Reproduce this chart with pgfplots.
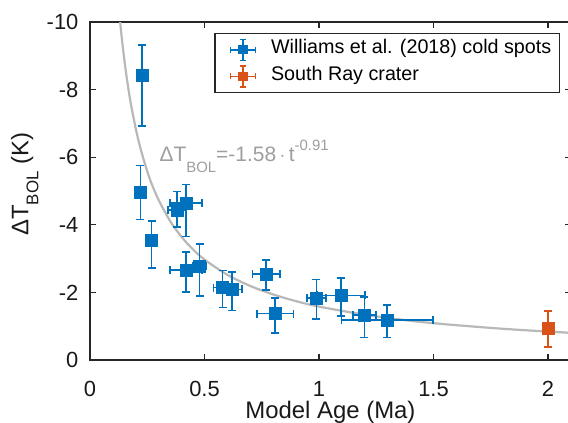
\documentclass[border=0pt]{standalone}
\usepackage{pgfplots}
\pgfplotsset{compat=1.18}
\usepackage{pgfplotstable}
\usepackage{fontspec}
\setmainfont{Liberation Sans}
\definecolor{mblue}{rgb}{0,0.447,0.741}
\definecolor{morange}{rgb}{0.85,0.325,0.098}
\definecolor{axgray}{rgb}{0.15,0.15,0.15}
\definecolor{fitgray}{rgb}{0.72,0.72,0.72}
\definecolor{txtgray}{rgb}{0.62,0.62,0.62}

\pgfplotstableread{
x     y      xe     yep   yem
0.228 -8.43  0      1.50  0.89
0.220 -4.97  0      0.81  0.78
0.269 -3.53  0      0.80  0.59
0.380 -4.44  0.040  0.51  0.54
0.419 -4.65  0.070  1.00  0.54
0.419 -2.66  0.070  0.64  0.54
0.479 -2.78  0.030  0.89  0.66
0.579 -2.14  0.040  0.59  0.51
0.619 -2.09  0.045  0.62  0.52
0.769 -2.54  0.060  0.47  0.42
0.809 -1.37  0.080  0.57  0.47
0.989 -1.84  0.041  0.63  0.54
1.097 -1.91  0.105  0.61  0.52
1.198 -1.33  0.050  0.67  0.54
1.298 -1.19  0.200  0.53  0.43
}\williams

\pgfplotstableread{
x     y      xe     yep   yem
2.000 -0.95  0      0.56  0.50
}\southray

\pgfplotsset{
  ebicon/.style={
    legend image code/.code={
      \path (-7bp,0bp);
      \draw[#1, line width=1.5bp] (0bp,0bp) -- (25bp,0bp);
      \draw[#1, line width=1.5bp] (0bp,-3bp) -- (0bp,3bp) (25bp,-3bp) -- (25bp,3bp);
      \draw[#1, line width=1.5bp] (12.5bp,-10.5bp) -- (12.5bp,10.5bp) (9.5bp,-10.5bp) -- (15.5bp,-10.5bp) (9.5bp,10.5bp) -- (15.5bp,10.5bp);
      \fill[#1] (8.5bp,-4bp) rectangle (16.5bp,4bp);}}
}

\begin{document}
\begin{tikzpicture}
\begin{axis}[
  scale only axis, width=480.9bp, height=338bp,
  xmin=0, xmax=2.1, ymin=-10, ymax=0, y dir=reverse,
  xtick={0,0.5,1,1.5,2}, xticklabels={0,0.5,1,1.5,2},
  ytick={-10,-8,-6,-4,-2,0}, yticklabels={-10,-8,-6,-4,-2,0},
  tick align=inside, major tick length=6bp,
  axis line style={axgray, line width=1.2bp},
  every tick/.style={axgray, line width=1.2bp},
  tick label style={font=\fontsize{22}{22}\selectfont, text=black!90, inner sep=0pt},
  xticklabel style={anchor=north, yshift=-21bp},
  yticklabel style={anchor=east, xshift=-11.4bp},
  xlabel={Model Age (Ma)},
  ylabel={ΔT\raisebox{-0.42em}{\fontsize{17}{17}\selectfont BOL} (K)},
  label style={font=\fontsize{24}{24}\selectfont, text=black!90, inner sep=0pt},
  xlabel style={at={(axis description cs:0.5,0)}, anchor=base, yshift=-58bp},
  ylabel style={at={(axis description cs:-0.128,0.52)}, anchor=base},
  legend style={at={(1,1)}, anchor=north east, xshift=-11bp, yshift=-11bp,
    draw=axgray, line width=1.2bp, fill=white,
    inner xsep=8bp, inner ysep=5bp,
    nodes={inner sep=0pt, text height=14bp, text depth=6bp, font=\fontsize{19.8}{20}\selectfont},
    row sep=4bp, column sep=0bp},
  legend cell align=left,
  /tikz/every odd column/.append style={column sep=14.7bp},
]
\addplot[fitgray, line width=2.2bp, smooth, forget plot] coordinates {
(0.1316,-10.00) (0.14,-9.45) (0.15,-8.88) (0.16,-8.37) (0.17,-7.92) (0.18,-7.52)
(0.20,-6.84) (0.22,-6.27) (0.25,-5.58) (0.27,-5.20) (0.30,-4.73) (0.35,-4.11)
(0.40,-3.64) (0.45,-3.27) (0.50,-2.97) (0.60,-2.52) (0.70,-2.19) (0.80,-1.94)
(0.90,-1.74) (1.00,-1.58) (1.20,-1.34) (1.40,-1.16) (1.50,-1.09) (1.60,-1.03)
(1.80,-0.925) (2.00,-0.841) (2.10,-0.804)};

\addplot[only marks, mark=square*, mark size=6bp, color=mblue, /pgfplots/ebicon=mblue,
  mark options={fill=mblue, draw=mblue, line width=0.4bp},
  error bars/.cd, x dir=both, x explicit, y dir=both, y explicit,
  error bar style={line width=1.6bp, mblue},
  error mark options={rotate=90, line width=1.6bp, mark size=4bp, mblue},
  ] table[x=x, y=y, x error=xe, y error plus=yep, y error minus=yem]{\williams};
\addlegendentry{Williams et al. (2018) cold spots}

\addplot[only marks, mark=square*, mark size=6bp, color=morange, /pgfplots/ebicon=morange,
  mark options={fill=morange, draw=morange, line width=0.4bp},
  error bars/.cd, x dir=both, x explicit, y dir=both, y explicit,
  error bar style={line width=1.6bp, morange},
  error mark options={rotate=90, line width=1.6bp, mark size=4bp, morange},
  ] table[x=x, y=y, x error=xe, y error plus=yep, y error minus=yem]{\southray};
\addlegendentry{South Ray crater}

\node[anchor=base west, text=txtgray, inner sep=0pt, font=\fontsize{21}{21}\selectfont]
  at (axis cs:0.303,-5.87)
  {ΔT\raisebox{-0.5em}{\fontsize{15}{15}\selectfont BOL}=-1.58\,$\cdot$\,t\raisebox{0.55em}{\fontsize{15}{15}\selectfont -0.91}};
\end{axis}
\pgfresetboundingbox
\useasboundingbox ([xshift=-90bp,yshift=22bp]current axis.north west) rectangle ([xshift=478bp,yshift=-63bp]current axis.south west);
\end{tikzpicture}
\end{document}
